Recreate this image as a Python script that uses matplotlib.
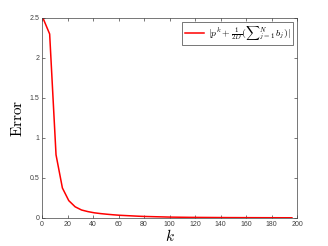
import matplotlib
matplotlib.use("Agg")
import matplotlib.pyplot as plt
import numpy as np

plt.rcParams['mathtext.fontset'] = 'cm'
plt.rcParams['font.family'] = ['Liberation Sans', 'DejaVu Sans']

# iteration index and error values
k = np.arange(1, 197, 5)
err = [2.49, 2.30, 0.79, 0.375, 0.217, 0.14, 0.10, 0.08, 0.065, 0.055,
       0.047, 0.040, 0.034, 0.030, 0.026, 0.022, 0.019, 0.017, 0.015, 0.013,
       0.011, 0.010, 0.009, 0.008, 0.0075, 0.007, 0.0065, 0.006, 0.0055, 0.005,
       0.0048, 0.0045, 0.0042, 0.004, 0.0038, 0.0036, 0.0034, 0.0032, 0.003, 0.0029]

xticks = np.arange(0, 201, 20)
yticks = [0, 0.5, 1, 1.5, 2, 2.5]

fig = plt.figure(figsize=(3.28, 2.46), dpi=100)
ax = fig.add_axes([42 / 328, 1 - 218 / 246, 255 / 328, 200 / 246])

ax.plot(k, err, color='red', linewidth=1.1,
        label=r'$|p^k+\frac{1}{2D}({\sum}_{j=1}^{N}\, b_j)|$')

ax.set_xlim(0, 200)
ax.set_ylim(0, 2.5)
ax.set_xticks(xticks)
ax.set_yticks(yticks)
ax.set_yticklabels(['0', '0.5', '1', '1.5', '2', '2.5'])
ax.tick_params(direction='in', top=True, right=True, length=2.5, width=0.5,
               labelsize=5, colors='#404040', pad=2)
for s in ax.spines.values():
    s.set_linewidth(0.5)
    s.set_color('#404040')

ax.set_xlabel(r'$k$', fontsize=11, labelpad=0)
ax.set_ylabel(r'$\mathrm{Error}$', fontsize=11, labelpad=3)

leg = ax.legend(loc='upper right', fontsize=7, fancybox=False,
                framealpha=1, edgecolor='#404040', handlelength=2,
                borderpad=0.25, borderaxespad=0.4, handletextpad=0.4)
leg.get_frame().set_linewidth(0.5)

plt.savefig("out.png", dpi=100)
